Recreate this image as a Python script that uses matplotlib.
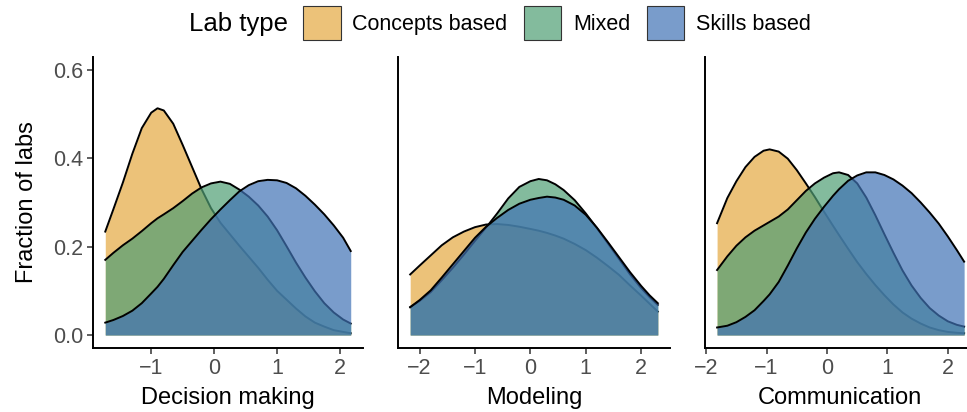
import matplotlib
matplotlib.use("Agg")
import matplotlib.pyplot as plt
from matplotlib.patches import Patch

plt.rcParams['font.family'] = ['Liberation Sans', 'DejaVu Sans']

lab_types = ["Concepts based", "Mixed", "Skills based"]
fill_colors = ["#E5A841", "#4F9E74", "#4173B5"]

panel_titles = ["Decision making", "Modeling", "Communication"]

# density curves (x grid per panel, one y list per lab type)
dm_x = [-1.73, -1.6, -1.45, -1.3, -1.15, -1.0, -0.9, -0.8, -0.65, -0.5, -0.35, -0.2, -0.05, 0.1,
        0.25, 0.4, 0.55, 0.7, 0.85, 1.0, 1.15, 1.3, 1.45, 1.6, 1.75, 1.9, 2.05, 2.17]
dm_concepts = [0.234, 0.285, 0.345, 0.41, 0.468, 0.503, 0.513, 0.508, 0.478, 0.43, 0.38, 0.33, 0.287, 0.254,
               0.228, 0.202, 0.177, 0.152, 0.125, 0.1, 0.08, 0.06, 0.042, 0.028, 0.019, 0.011, 0.007, 0.004]
dm_mixed = [0.17, 0.186, 0.203, 0.218, 0.235, 0.253, 0.264, 0.273, 0.287, 0.303, 0.32, 0.334, 0.343, 0.347,
            0.342, 0.329, 0.313, 0.293, 0.268, 0.237, 0.201, 0.164, 0.13, 0.099, 0.072, 0.051, 0.035, 0.026]
dm_skills = [0.028, 0.034, 0.043, 0.055, 0.072, 0.094, 0.109, 0.127, 0.158, 0.188, 0.213, 0.238, 0.262, 0.284,
             0.305, 0.325, 0.339, 0.348, 0.351, 0.35, 0.344, 0.332, 0.315, 0.295, 0.273, 0.248, 0.22, 0.19]

mod_x = [-2.17, -2.0, -1.8, -1.6, -1.4, -1.2, -1.0, -0.8, -0.6, -0.4, -0.2, 0.0, 0.15,
         0.3, 0.45, 0.6, 0.8, 1.0, 1.2, 1.4, 1.6, 1.8, 2.0, 2.15, 2.3]
mod_concepts = [0.137, 0.157, 0.18, 0.203, 0.221, 0.234, 0.244, 0.25, 0.251, 0.249, 0.245, 0.24, 0.236,
                0.231, 0.225, 0.218, 0.206, 0.192, 0.175, 0.156, 0.136, 0.112, 0.089, 0.071, 0.053]
mod_mixed = [0.063, 0.077, 0.097, 0.124, 0.152, 0.182, 0.213, 0.243, 0.275, 0.309, 0.335, 0.348, 0.353,
             0.35, 0.341, 0.328, 0.305, 0.275, 0.242, 0.207, 0.172, 0.137, 0.106, 0.086, 0.068]
mod_skills = [0.063, 0.079, 0.101, 0.13, 0.16, 0.19, 0.22, 0.245, 0.265, 0.283, 0.297, 0.306, 0.31,
              0.313, 0.311, 0.306, 0.293, 0.272, 0.243, 0.21, 0.176, 0.142, 0.111, 0.09, 0.072]

com_x = [-1.82, -1.65, -1.5, -1.35, -1.2, -1.05, -0.95, -0.8, -0.65, -0.5, -0.35, -0.2, -0.05, 0.1, 0.2,
         0.35, 0.5, 0.65, 0.8, 0.95, 1.1, 1.25, 1.4, 1.55, 1.7, 1.85, 2.0, 2.15, 2.27]
com_concepts = [0.253, 0.31, 0.348, 0.38, 0.403, 0.417, 0.42, 0.415, 0.399, 0.373, 0.343, 0.312, 0.279, 0.247, 0.226,
                0.195, 0.165, 0.138, 0.113, 0.09, 0.069, 0.051, 0.037, 0.026, 0.017, 0.011, 0.007, 0.005, 0.004]
com_mixed = [0.147, 0.178, 0.202, 0.221, 0.236, 0.248, 0.256, 0.268, 0.284, 0.305, 0.326, 0.343, 0.356, 0.366, 0.368,
             0.362, 0.343, 0.311, 0.271, 0.228, 0.186, 0.146, 0.112, 0.084, 0.061, 0.044, 0.031, 0.023, 0.019]
com_skills = [0.017, 0.021, 0.029, 0.041, 0.056, 0.077, 0.092, 0.12, 0.157, 0.196, 0.232, 0.263, 0.29, 0.315, 0.33,
              0.349, 0.361, 0.368, 0.368, 0.362, 0.352, 0.338, 0.321, 0.3, 0.277, 0.252, 0.223, 0.192, 0.166]

panels = [
    (dm_x, [dm_concepts, dm_mixed, dm_skills]),
    (mod_x, [mod_concepts, mod_mixed, mod_skills]),
    (com_x, [com_concepts, com_mixed, com_skills]),
]

xlims = [(-1.925, 2.365), (-2.39, 2.52), (-2.02, 2.45)]
xticks = [[-1, 0, 1, 2], [-2, -1, 0, 1, 2], [-2, -1, 0, 1, 2]]
positions = [
    [93 / 967, 64 / 412, 270 / 967, 291 / 412],
    [398 / 967, 64 / 412, 272 / 967, 291 / 412],
    [705 / 967, 64 / 412, 270 / 967, 291 / 412],
]

fig = plt.figure(figsize=(9.67, 4.12), dpi=100)

for i, (xs, curves) in enumerate(panels):
    ax = fig.add_axes(positions[i])
    for j, ys in enumerate(curves):
        ax.fill_between(xs, 0, ys, color=fill_colors[j], alpha=0.7, linewidth=0, zorder=2 * j + 1)
        ax.plot(xs, ys, color="black", linewidth=1.4, zorder=2 * j + 2, solid_joinstyle="round")
    ax.set_xlim(*xlims[i])
    ax.set_ylim(-0.0294, 0.629)
    ax.set_xticks(xticks[i])
    for side in ["top", "right"]:
        ax.spines[side].set_visible(False)
    for side in ["left", "bottom"]:
        ax.spines[side].set_linewidth(1.4)
    ax.tick_params(axis="both", length=4, width=1.1, color="#333333",
                   labelsize=15.5, labelcolor="#4D4D4D", pad=3)
    ax.set_xlabel(panel_titles[i], fontsize=17, labelpad=6)
    if i == 0:
        ax.set_yticks([0.0, 0.2, 0.4, 0.6])
        ax.set_yticklabels(["0.0", "0.2", "0.4", "0.6"])
        ax.set_ylabel("Fraction of labs", fontsize=17, labelpad=11)
    else:
        ax.set_yticks([])

fig.text(189 / 967, 1 - 24 / 412, "Lab type", fontsize=18.5, ha="left", va="center")
handles = [Patch(facecolor=matplotlib.colors.to_rgba(c, 0.7), edgecolor="#333333", linewidth=0.8)
           for c in fill_colors]
fig.legend(handles, lab_types, loc="center", bbox_to_anchor=(557 / 967, 1 - 23 / 412),
           ncol=3, frameon=False, fontsize=15.5, handlelength=1.75, handleheight=2.0,
           handletextpad=0.55, columnspacing=0.75, borderpad=0)

fig.savefig("out.png", dpi=100)
